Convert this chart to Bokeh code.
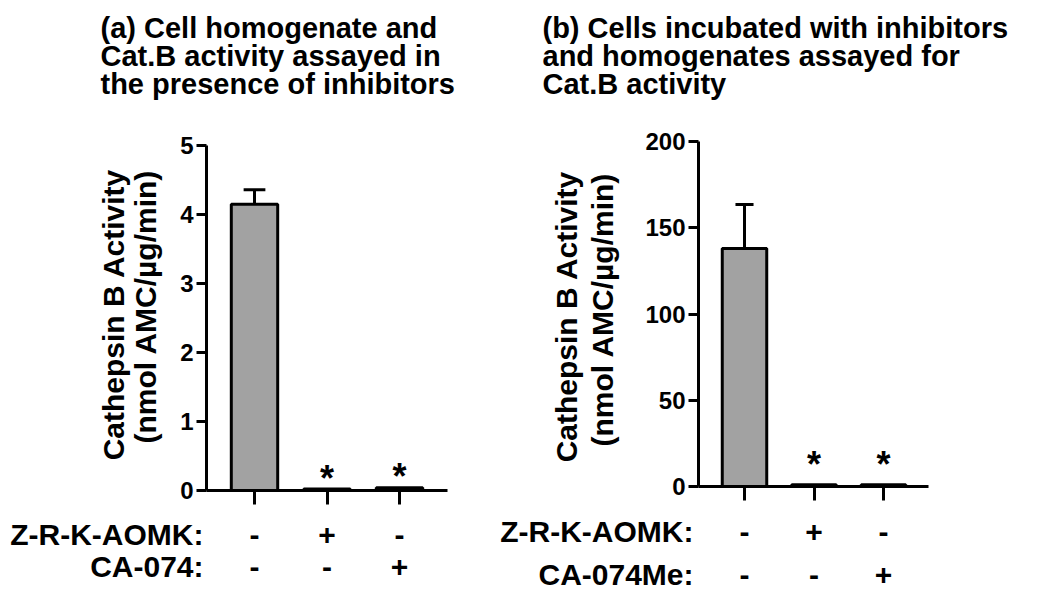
from bokeh.plotting import figure
from bokeh.models import Range1d, FixedTicker, LinearAxis
from bokeh.layouts import row
from bokeh.embed import file_html
from bokeh.resources import INLINE
from bokeh.core.properties import value

FONT = "Liberation Sans"

# ---------------- data ----------------
a_title = ["(a) Cell homogenate and", "Cat.B activity assayed in", "the presence of inhibitors"]
b_title = ["(b) Cells incubated with inhibitors", "and homogenates assayed for", "Cat.B activity"]
y_label = ["Cathepsin B Activity", "(nmol AMC/µg/min)"]
groups = [0, 1, 2]
a_means = [4.15, 0.02, 0.04]
a_sem = [0.21, 0.0, 0.0]
b_means = [138.0, 1.0, 1.0]
b_sem = [25.5, 0.0, 0.0]
sig = ["", "*", "*"]
row1_name = "Z-R-K-AOMK:"
a_row2_name = "CA-074:"
b_row2_name = "CA-074Me:"
row1_signs = ["-", "+", "-"]
row2_signs = ["-", "-", "+"]
a_yticks = [0, 1, 2, 3, 4, 5]
b_yticks = [0, 50, 100, 150, 200]

H = 592


def make_panel(means, sem, yticks, titles, row2_name, g):
    ymax = yticks[-1]
    off, W = g["offset"], g["width"]
    x0px, ppx, y0py, ppy = g["x0px"], g["ppx"], g["y0py"], g["ppy"]

    def X(px):  # page px -> data x
        return (px - x0px) / ppx

    def Y(py):  # page px -> data y
        return (y0py - py) / ppy

    p = figure(width=W, height=H,
               x_range=Range1d(X(off), X(off + W)), y_range=Range1d(Y(H), Y(0)),
               output_backend="svg", toolbar_location=None,
               x_axis_location=None, y_axis_location=None,
               min_border=0, min_border_left=0, min_border_right=0,
               min_border_top=0, min_border_bottom=0)
    p.xgrid.visible = False
    p.ygrid.visible = False
    p.outline_line_color = None
    p.background_fill_color = "white"
    p.border_fill_color = "white"

    ax_x = X(g["axis_left"])
    ax_r = X(g["axis_right"])

    yaxis = LinearAxis(fixed_location=ax_x, bounds=(0, ymax), ticker=FixedTicker(ticks=yticks))
    yaxis.major_label_text_font = FONT
    yaxis.major_label_text_font_style = "bold"
    yaxis.major_label_text_font_size = "24px"
    yaxis.major_label_text_color = "black"
    yaxis.major_label_standoff = 3
    yaxis.major_tick_out = 10
    xaxis = LinearAxis(fixed_location=0, bounds=(ax_x, ax_r), ticker=FixedTicker(ticks=groups))
    xaxis.major_label_overrides = {i: "" for i in groups}
    xaxis.major_tick_out = 14
    for ax in (xaxis, yaxis):
        ax.axis_line_width = 3
        ax.axis_line_color = "black"
        ax.major_tick_line_width = 3
        ax.major_tick_line_color = "black"
        ax.major_tick_in = 0
        ax.minor_tick_line_color = None
    p.add_layout(yaxis, "left")
    p.add_layout(xaxis, "below")

    # error bars (upper only)
    ex, ey0, ey1, cx0, cx1 = [], [], [], [], []
    for x, m, s in zip(groups, means, sem):
        if s > 0:
            ex.append(x); ey0.append(m); ey1.append(m + s)
            cx0.append(x - g["cap"]); cx1.append(x + g["cap"])
    p.segment(x0=ex, y0=ey0, x1=ex, y1=ey1, line_color="black", line_width=3)
    p.segment(x0=cx0, y0=ey1, x1=cx1, y1=ey1, line_color="black", line_width=3)

    # bars
    p.vbar(x=groups, top=means, bottom=0, width=0.64, fill_color="#a2a2a2",
           line_color="black", line_width=3)

    # significance stars
    sx = [x for x, s in zip(groups, sig) if s]
    sy = [m for m, s in zip(means, sig) if s]
    p.text(x=sx, y=sy, text=[s for s in sig if s], text_font=value(FONT),
           text_font_style="bold", text_font_size="36px", text_align="center",
           text_baseline="middle", y_offset=g["star_off"], text_color="black")

    # titles
    p.text(x=[X(g["title_x"])] * len(titles), y=[Y(v) for v in g["title_y"]], text=titles,
           text_font=value(FONT), text_font_style="bold", text_font_size="29px",
           text_align="left", text_baseline="alphabetic", text_color="black")
    # y label (two rotated lines)
    p.text(x=[X(v) for v in g["yl_x"]], y=[Y(v) for v in g["yl_y"]], text=y_label,
           angle=1.5707963, text_font=value(FONT), text_font_style="bold",
           text_font_size="30px", text_align="center", text_baseline="middle",
           text_color="black")
    # condition rows
    names = [row1_name, row2_name]
    p.text(x=[X(g["row_x"])] * 2, y=[Y(v) for v in g["row_y"]], text=names,
           text_font=value(FONT), text_font_style="bold", text_font_size="30px",
           text_align="right", text_baseline="middle", text_color="black")
    sxs, sys, sts = [], [], []
    for signs, ry in ((row1_signs, g["row_y"][0]), (row2_signs, g["row_y"][1])):
        for x, s in zip(groups, signs):
            sxs.append(x); sys.append(Y(ry)); sts.append(s)
    p.text(x=sxs, y=sys, text=sts, text_font=value(FONT), text_font_style="bold",
           text_font_size="30px", text_align="center", text_baseline="middle",
           text_color="black")
    return p


# layout anchors in page pixels
ga = dict(offset=0, width=495, x0px=254, ppx=72.5, y0py=490, ppy=69.0,
          axis_left=206, axis_right=447, cap=0.15, star_off=-11,
          title_x=100, title_y=[27, 55, 83], yl_x=[113, 145], yl_y=[314, 306],
          row_x=203, row_y=[534, 566])
gb = dict(offset=495, width=545, x0px=744, ppx=69.5, y0py=486, ppy=1.725,
          axis_left=698, axis_right=928, cap=0.13, star_off=-20,
          title_x=542, title_y=[27, 55, 83], yl_x=[566, 602], yl_y=[316, 309],
          row_x=693, row_y=[531, 574])

pa = make_panel(a_means, a_sem, a_yticks, a_title, a_row2_name, ga)
pb = make_panel(b_means, b_sem, b_yticks, b_title, b_row2_name, gb)

layout = row(pa, pb, spacing=0)
open("out.html", "w").write(file_html(layout, INLINE))
